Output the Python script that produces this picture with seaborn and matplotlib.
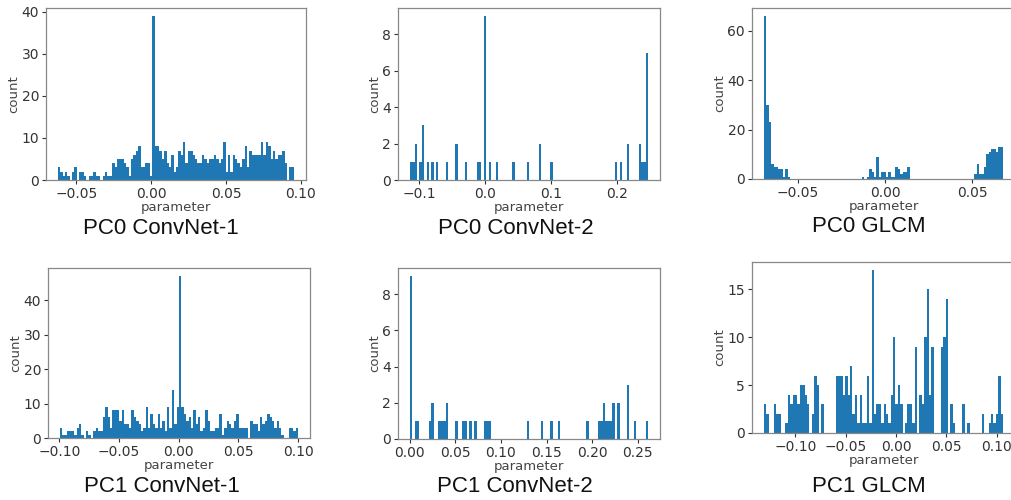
import numpy as np
import pandas as pd
import matplotlib
matplotlib.use("Agg")
import matplotlib.pyplot as plt
import seaborn as sns

# Histogram bin counts (100 bins each)
pc0_conv1_counts = [
    3, 2, 1, 2, 1, 0, 2, 3, 0, 2,
    2, 1, 0, 1, 1, 2, 1, 1, 0, 1,
    2, 1, 1, 4, 3, 5, 5, 5, 4, 3,
    1, 5, 6, 7, 8, 3, 3, 4, 4, 1,
    39, 8, 8, 7, 5, 7, 4, 3, 6, 2,
    3, 7, 6, 9, 4, 7, 7, 6, 5, 4,
    4, 6, 5, 4, 5, 5, 6, 5, 4, 5,
    9, 2, 6, 2, 6, 5, 4, 3, 5, 8,
    3, 7, 6, 6, 6, 6, 9, 6, 9, 8,
    5, 7, 5, 6, 6, 7, 4, 0, 3, 3]
pc0_conv1_range = (-0.0623, 0.0955)

pc0_conv2_counts = [
    1, 1, 2, 0, 1, 3, 0, 1, 0, 1,
    0, 1, 0, 0, 0, 1, 0, 0, 0, 2,
    0, 0, 0, 1, 0, 0, 0, 0, 1, 1,
    0, 9, 0, 1, 0, 0, 1, 0, 0, 0,
    0, 0, 0, 1, 0, 0, 0, 0, 0, 1,
    0, 0, 0, 0, 2, 0, 0, 0, 0, 1,
    0, 0, 0, 0, 0, 0, 0, 0, 0, 0,
    0, 0, 0, 0, 0, 0, 0, 0, 0, 0,
    0, 0, 0, 0, 0, 0, 1, 0, 1, 0,
    0, 2, 0, 0, 0, 0, 2, 1, 1, 7]
pc0_conv2_range = (-0.1136, 0.247)

pc0_glcm_counts = [
    66, 30, 23, 6, 5, 5, 4, 4, 1, 4,
    1, 0, 0, 0, 0, 0, 0, 0, 0, 0,
    0, 0, 0, 0, 0, 0, 0, 0, 0, 0,
    0, 0, 0, 0, 0, 0, 0, 0, 0, 0,
    0, 1, 0, 1, 4, 3, 1, 9, 1, 3,
    3, 1, 3, 1, 1, 5, 4, 2, 3, 3,
    5, 0, 0, 0, 0, 0, 0, 0, 0, 0,
    0, 0, 0, 0, 0, 0, 0, 0, 0, 0,
    0, 0, 0, 0, 0, 0, 0, 0, 2, 6,
    2, 2, 5, 10, 11, 12, 12, 11, 13, 13]
pc0_glcm_range = (-0.0694, 0.0676)

pc1_conv1_counts = [
    3, 1, 1, 2, 2, 2, 1, 3, 4, 1,
    0, 2, 1, 0, 2, 3, 2, 2, 6, 9,
    6, 3, 8, 8, 8, 5, 8, 4, 4, 3,
    8, 6, 5, 4, 2, 3, 9, 3, 7, 4,
    3, 7, 3, 5, 2, 9, 3, 14, 4, 9,
    47, 9, 7, 5, 6, 3, 8, 4, 6, 2,
    3, 8, 5, 2, 2, 3, 3, 7, 1, 3,
    5, 4, 3, 5, 7, 3, 3, 3, 3, 0,
    5, 4, 4, 2, 6, 4, 5, 7, 6, 5,
    3, 5, 3, 1, 0, 0, 3, 3, 2, 3]
pc1_conv1_range = (-0.0995, 0.1000)

pc1_conv2_counts = [
    9, 0, 1, 1, 0, 0, 0, 0, 1, 2,
    0, 0, 1, 1, 1, 2, 0, 0, 0, 1,
    0, 0, 1, 1, 0, 1, 0, 1, 0, 0,
    0, 1, 1, 1, 0, 0, 0, 0, 0, 0,
    0, 0, 0, 0, 0, 0, 0, 0, 0, 1,
    0, 0, 0, 0, 0, 1, 0, 0, 0, 1,
    0, 0, 1, 0, 0, 0, 0, 0, 0, 0,
    0, 0, 0, 0, 1, 0, 0, 0, 0, 1,
    1, 2, 1, 1, 1, 2, 0, 2, 0, 0,
    0, 3, 0, 0, 1, 0, 0, 0, 0, 1]
pc1_conv2_range = (0.0, 0.2615)

pc1_glcm_counts = [
    3, 2, 0, 0, 3, 2, 2, 0, 0, 1,
    4, 3, 4, 4, 3, 5, 5, 4, 3, 0,
    2, 6, 5, 0, 3, 0, 0, 0, 0, 0,
    6, 6, 6, 4, 6, 4, 7, 2, 4, 1,
    4, 1, 1, 6, 1, 17, 2, 3, 3, 1,
    3, 2, 1, 4, 10, 3, 5, 3, 0, 1,
    3, 3, 1, 9, 0, 4, 3, 10, 15, 4,
    9, 0, 0, 0, 9, 10, 14, 0, 3, 1,
    0, 0, 0, 3, 0, 1, 0, 0, 0, 0,
    0, 2, 0, 0, 1, 2, 1, 2, 6, 2]
pc1_glcm_range = (-0.1313, 0.1063)

titles = ["PC0 ConvNet-1", "PC0 ConvNet-2", "PC0 GLCM",
          "PC1 ConvNet-1", "PC1 ConvNet-2", "PC1 GLCM"]
x_ticks = [
    [-0.05, 0.0, 0.05, 0.10],
    [-0.1, 0.0, 0.1, 0.2],
    [-0.05, 0.0, 0.05],
    [-0.10, -0.05, 0.0, 0.05, 0.10],
    [0.0, 0.05, 0.10, 0.15, 0.20, 0.25],
    [-0.10, -0.05, 0.0, 0.05, 0.10],
]

panels = [
    (pc0_conv1_counts, pc0_conv1_range),
    (pc0_conv2_counts, pc0_conv2_range),
    (pc0_glcm_counts, pc0_glcm_range),
    (pc1_conv1_counts, pc1_conv1_range),
    (pc1_conv2_counts, pc1_conv2_range),
    (pc1_glcm_counts, pc1_glcm_range),
]

# axes boxes in pixels (left, top, right, bottom) of a 1012x500 canvas
W, H = 1012, 500
boxes = [
    (46, 8, 306, 180),
    (398, 8, 660, 180),
    (752, 8, 1015, 179),
    (48, 268, 310, 438),
    (398, 268, 660, 439),
    (752, 262, 1015, 433),
]
title_pos = [(161, 228), (516, 228), (869, 227), (162, 486), (515, 486), (869, 486)]

sns.set_style("ticks")
plt.rcParams["font.family"] = ["DejaVu Sans"]

fig = plt.figure(figsize=(W / 100, H / 100), dpi=100)

for i, (counts, (lo, hi)) in enumerate(panels):
    l, t, r, b = boxes[i]
    ax = fig.add_axes([l / W, 1 - b / H, (r - l) / W, (b - t) / H])
    edges = np.linspace(lo, hi, len(counts) + 1)
    df = pd.DataFrame({"parameter": (edges[:-1] + edges[1:]) / 2,
                       "n": counts})
    sns.histplot(data=df, x="parameter", weights="n", bins=len(counts),
                 binrange=(lo, hi), ax=ax,
                 color="#1f77b4", alpha=1, linewidth=0)
    ax.set_xticks(x_ticks[i])
    ax.set_xlabel("parameter", fontsize=9.5, color="#444444", labelpad=0)
    ax.set_ylabel("count", fontsize=9.5, color="#444444", labelpad=1)
    ax.tick_params(labelsize=10, colors="#333333", length=3, width=0.8, pad=2)
    for s in ax.spines.values():
        s.set_color("#888888")
        s.set_linewidth(0.9)
    cx, cy = title_pos[i]
    fig.text(cx / W, 1 - cy / H, titles[i], ha="center", va="center",
             fontsize=16, family="Liberation Sans", color="#111111")

fig.savefig("out.png", dpi=100)
